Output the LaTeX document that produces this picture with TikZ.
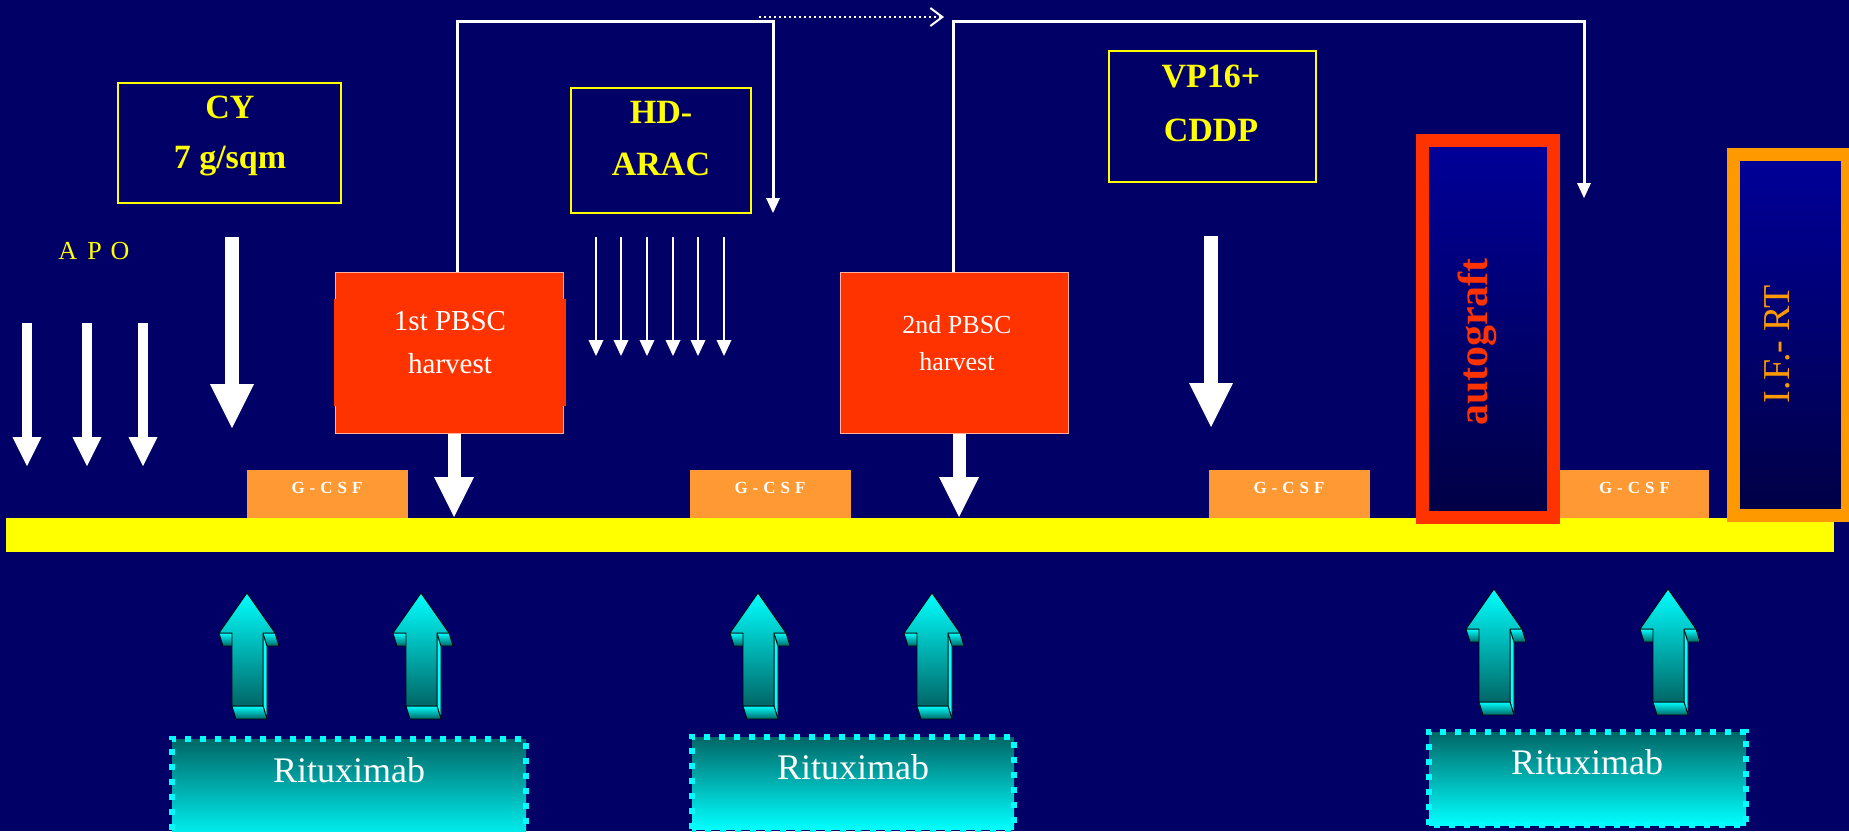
\documentclass[tikz,border=0pt]{standalone}
\usepackage{fontspec}
\setmainfont{Liberation Serif}
\usetikzlibrary{arrows.meta}
\definecolor{bg}{HTML}{000066}
\definecolor{ylw}{HTML}{FFFF00}
\definecolor{redc}{HTML}{FF3300}
\definecolor{rededge}{HTML}{FFB0A0}
\definecolor{orng}{HTML}{FF9933}
\definecolor{orng2}{HTML}{FF9900}
\definecolor{cyn}{HTML}{00FFFF}
\definecolor{tealc}{HTML}{006666}
\definecolor{blueTop}{HTML}{000099}
\definecolor{blueBot}{HTML}{000044}
\begin{document}
\begin{tikzpicture}[x=1pt,y=-1pt,
  ybox/.style={draw=ylw, line width=2pt, inner sep=0pt},
  ytxt/.style={text=ylw, font=\fontsize{34}{40}\selectfont\bfseries, inner sep=0pt, anchor=base},
  redbox/.style={fill=redc, draw=rededge, line width=1pt, inner sep=0pt, minimum width=228pt, minimum height=161pt},
  wtxt/.style={text=white, inner sep=0pt, anchor=base},
  gbox/.style={fill=orng, inner sep=0pt, minimum width=161pt, minimum height=48pt},
  gtxt/.style={text=white, font=\fontsize{17}{20}\selectfont\bfseries, inner sep=0pt, anchor=base},
  bigarr/.style={draw=white, line width=14pt, -{Triangle[width=44pt,length=44pt,line width=0pt]}},
  harvarr/.style={draw=white, line width=13pt, -{Triangle[width=40pt,length=40pt,line width=0pt]}},
  apoarr/.style={draw=white, line width=10pt, -{Triangle[width=29pt,length=29pt,line width=0pt]}},
  thinarr/.style={draw=white, line width=2.5pt, -{Triangle[width=15pt,length=16pt,line width=0pt]}},
  conn/.style={draw=white, line width=3pt, line join=miter, -{Triangle[width=14pt,length=15pt,line width=0pt]}},
  ritbox/.style={inner sep=0pt, top color=tealc, bottom color=cyn},
  ritborder/.style={draw=cyn, line width=6pt, dash pattern=on 6pt off 9pt},
  rittxt/.style={text=white, font=\fontsize{36}{40}\selectfont, inner sep=0pt, anchor=base},
  arrface/.style={draw=black, line width=0.8pt, line join=round},
  up3d/.pic={
    \path[arrface, top color=cyn, bottom color=cyn] (16,40) -- (20,53) -- (20,126) -- (16,113) -- cycle;
    \path[arrface, top color=cyn, bottom color=tealc] (-28,40) -- (-15,40) -- (-11,53) -- (-24,53) -- cycle;
    \path[arrface, top color=cyn, bottom color=tealc] (16,40) -- (28,40) -- (32,53) -- (20,53) -- cycle;
    \path[arrface, top color=cyn, bottom color=tealc] (-15,113) -- (16,113) -- (20,126) -- (-11,126) -- cycle;
    \path[arrface, top color=cyn, bottom color=tealc] (0,0) -- (28,40) -- (16,40) -- (16,113) -- (-15,113) -- (-15,40) -- (-28,40) -- cycle;
  }
]
\useasboundingbox (0,0) rectangle (1849,831);
\fill[bg] (0,0) rectangle (1849,831);
\clip (0,0) rectangle (1849,831);

% yellow time line
\fill[ylw] (6,518) rectangle (1834,552);

% G-CSF boxes
\node[gbox] (g1) at (327,494) {};
\node[gbox] (g2) at (770,494) {};
\node[gbox] (g3) at (1289,494) {};
\node[gbox, minimum width=149pt] (g4) at (1634.5,494) {};
\foreach \n/\x in {1/327,2/770,3/1289,4/1634.5}
  \node[gtxt] (g\n t) at (\x,493) {G\hspace{5pt}-\hspace{5pt}C\hspace{5pt}S\hspace{5pt}F};

% APO
\node[text=ylw, font=\fontsize{26}{30}\selectfont, inner sep=0pt, anchor=base] (apo) at (94,259) {A\hspace{10pt}P\hspace{9pt}O};
\coordinate (a1s) at (27,323); \coordinate (a1e) at (27,466);
\coordinate (a2s) at (87,323); \coordinate (a2e) at (87,466);
\coordinate (a3s) at (143,323); \coordinate (a3e) at (143,466);
\draw[apoarr] (a1s) -- (a1e);
\draw[apoarr] (a2s) -- (a2e);
\draw[apoarr] (a3s) -- (a3e);

% CY box
\node[ybox, minimum width=223pt, minimum height=120pt] (cy) at (229.5,143) {};
\node[ytxt] (cyt1) at (230,118) {CY};
\node[ytxt] (cyt2) at (230,168) {7 g/sqm};
\coordinate (cys) at (232,237); \coordinate (cye) at (232,428);
\draw[bigarr] (cys) -- (cye);

% HD-ARAC box
\node[ybox, minimum width=180pt, minimum height=125pt] (hd) at (661,150.5) {};
\node[ytxt] (hdt1) at (661,123) {HD-};
\node[ytxt] (hdt2) at (661,175) {ARAC};
\foreach \i/\x in {1/596,2/621,3/647,4/673,5/698,6/724}{
  \coordinate (t\i s) at (\x,237); \coordinate (t\i e) at (\x,356);
  \draw[thinarr] (t\i s) -- (t\i e);
}

% VP16 box
\node[ybox, minimum width=207pt, minimum height=131pt] (vp) at (1212.5,116.5) {};
\node[ytxt] (vpt1) at (1211,87) {VP16+};
\node[ytxt] (vpt2) at (1211,141) {CDDP};
\coordinate (vps) at (1211,236); \coordinate (vpe) at (1211,427);
\draw[bigarr] (vps) -- (vpe);

% PBSC harvests
\node[redbox] (pb1) at (449,352.5) {};
\fill[redc] (333.5,299) rectangle (565.5,406);
\node[wtxt, font=\fontsize{29}{32}\selectfont] (pb1t1) at (450,330) {1st PBSC};
\node[wtxt, font=\fontsize{29}{32}\selectfont] (pb1t2) at (450,373) {harvest};
\node[redbox] (pb2) at (954,352.5) {};
\node[wtxt, font=\fontsize{26}{30}\selectfont] (pb2t1) at (957,333) {2nd PBSC};
\node[wtxt, font=\fontsize{26}{30}\selectfont] (pb2t2) at (957,370) {harvest};
\coordinate (h1) at (454,517); \coordinate (h2) at (959,517);
\draw[harvarr] ([xshift=5pt]pb1.south) -- (h1);
\draw[harvarr] ([xshift=5pt]pb2.south) -- (h2);

% top connectors
\coordinate (k1) at (773,21); \coordinate (k1e) at (773,213);
\coordinate (k2) at (1584,21); \coordinate (k2e) at (1584,198);
\draw[conn] ([xshift=8pt]pb1.north) |- (k1) -- (k1e);
\draw[conn] ([xshift=-1pt]pb2.north) |- (k2) -- (k2e);
\coordinate (d1) at (759,17); \coordinate (d2) at (944,17);
\draw[white, line width=2pt, dash pattern=on 2pt off 3pt, -{Straight Barb[length=12pt,width=18pt,line width=2pt]}] (d1) -- (d2);

% autograft
\path[top color=blueTop, bottom color=blueBot] (1422.5,140.5) rectangle (1553.5,517.5);
\draw[redc, line width=13pt] (1422.5,140.5) rectangle (1553.5,517.5);
\node[rotate=90, text=redc, font=\fontsize{42}{46}\selectfont\bfseries, inner sep=0pt] (ag) at (1477,342) {autograft};

% I.F.- RT
\path[top color=blueTop, bottom color=blueBot] (1733.5,154.5) rectangle (1847.5,515.5);
\draw[orng2, line width=13pt] (1733.5,154.5) rectangle (1847.5,515.5);
\node[rotate=90, text=orng2, font=\fontsize{38}{42}\selectfont, inner sep=0pt] (rt) at (1777,344) {I.F.- RT};

% Rituximab boxes
\node[ritbox, minimum width=354pt, minimum height=106pt] (r1) at (349,792) {};
\draw[ritborder] (r1.south west) rectangle (r1.north east);
\node[rittxt] (r1t) at (349,782) {Rituximab};
\node[ritbox, minimum width=322pt, minimum height=92pt] (r2) at (853,783) {};
\draw[ritborder] (r2.south west) rectangle (r2.north east);
\node[rittxt] (r2t) at (853,779) {Rituximab};
\node[ritbox, minimum width=317pt, minimum height=93pt] (r3) at (1587.5,778.5) {};
\draw[ritborder] (r3.south west) rectangle (r3.north east);
\node[rittxt] (r3t) at (1587,774) {Rituximab};

% 3D up arrows
\pic at (247,593) {up3d};
\pic at (421,593) {up3d};
\pic at (758,593) {up3d};
\pic at (932,593) {up3d};
\pic at (1494,589) {up3d};
\pic at (1668,589) {up3d};
\end{tikzpicture}
\end{document}
